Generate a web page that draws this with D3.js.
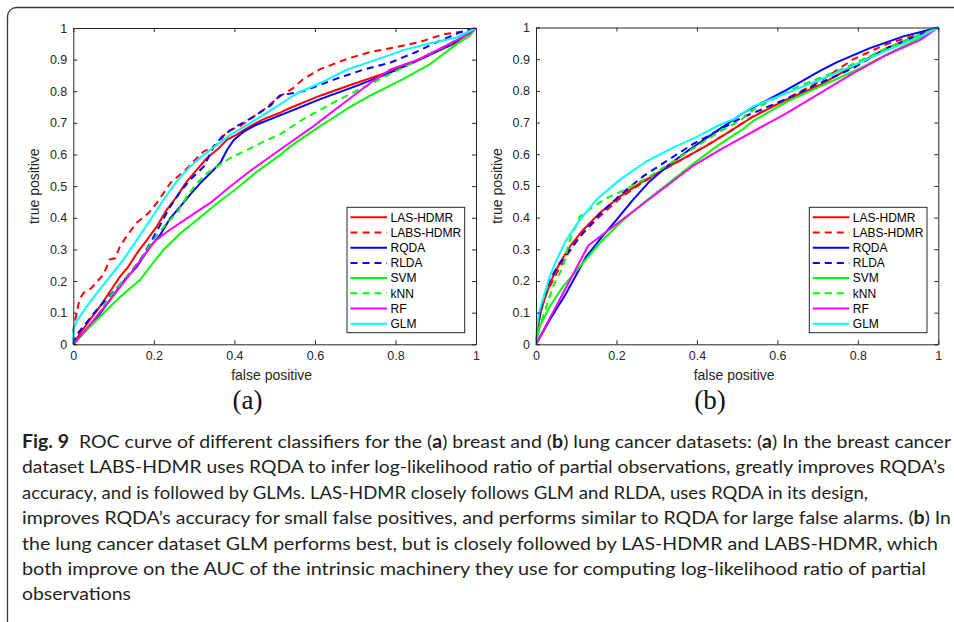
<!DOCTYPE html>
<html>
<head>
<meta charset="utf-8">
<script src="https://cdn.jsdelivr.net/npm/d3@7"></script>
<style>
  html, body { margin: 0; padding: 0; background: #fff; }
  svg { display: block; }
</style>
</head>
<body>
<svg id="fig" width="954" height="622"></svg>
<script>
// ---- data: ROC points [false positive, true positive] ----
// (a) breast cancer dataset
const breastLASHDMR = [[0,0],[0.017,0.035],[0.041,0.077],[0.066,0.119],[0.091,0.167],[0.116,0.214],[0.137,0.246],[0.158,0.288],[0.183,0.33],[0.207,0.372],[0.232,0.425],[0.257,0.467],[0.282,0.515],[0.307,0.552],[0.332,0.589],[0.357,0.615],[0.382,0.647],[0.407,0.664],[0.44,0.69],[0.473,0.712],[0.515,0.733],[0.538,0.747],[0.613,0.786],[0.695,0.823],[0.778,0.859],[0.861,0.902],[0.944,0.949],[1,1]];
const breastLABSHDMR = [[0,0],[0,0.045],[0.007,0.09],[0.015,0.14],[0.025,0.162],[0.045,0.178],[0.06,0.2],[0.075,0.22],[0.09,0.268],[0.104,0.272],[0.116,0.31],[0.133,0.343],[0.158,0.385],[0.187,0.415],[0.212,0.455],[0.241,0.51],[0.274,0.546],[0.307,0.589],[0.323,0.609],[0.356,0.63],[0.381,0.672],[0.414,0.69],[0.472,0.741],[0.513,0.784],[0.546,0.81],[0.571,0.839],[0.613,0.87],[0.679,0.902],[0.737,0.924],[0.803,0.94],[0.861,0.956],[0.919,0.98],[0.968,0.989],[1,1]];
const breastRQDA = [[0,0],[0.025,0.035],[0.058,0.082],[0.091,0.14],[0.124,0.198],[0.158,0.246],[0.191,0.309],[0.216,0.346],[0.241,0.399],[0.266,0.436],[0.29,0.473],[0.315,0.509],[0.34,0.541],[0.365,0.573],[0.382,0.615],[0.398,0.645],[0.423,0.672],[0.456,0.695],[0.49,0.712],[0.555,0.745],[0.613,0.775],[0.695,0.813],[0.778,0.854],[0.861,0.9],[0.944,0.952],[1,1]];
const breastRLDA = [[0,0],[0.008,0.03],[0.025,0.056],[0.058,0.109],[0.1,0.167],[0.133,0.214],[0.166,0.267],[0.191,0.32],[0.216,0.378],[0.241,0.436],[0.266,0.483],[0.29,0.52],[0.324,0.562],[0.349,0.626],[0.373,0.662],[0.407,0.69],[0.448,0.72],[0.49,0.755],[0.513,0.787],[0.571,0.8],[0.654,0.84],[0.72,0.868],[0.786,0.89],[0.853,0.925],[0.902,0.955],[0.96,0.986],[1,1]];
const breastSVM = [[0,0],[0.033,0.045],[0.075,0.098],[0.108,0.14],[0.141,0.177],[0.166,0.204],[0.191,0.246],[0.224,0.299],[0.266,0.351],[0.307,0.393],[0.357,0.446],[0.407,0.494],[0.456,0.546],[0.513,0.598],[0.538,0.625],[0.613,0.69],[0.679,0.744],[0.737,0.786],[0.82,0.839],[0.886,0.886],[0.952,0.949],[0.985,0.976],[1,1]];
const breastKNN = [[0,0],[0.025,0.035],[0.058,0.088],[0.091,0.151],[0.133,0.214],[0.166,0.267],[0.199,0.33],[0.232,0.383],[0.257,0.415],[0.282,0.467],[0.307,0.509],[0.332,0.541],[0.357,0.562],[0.39,0.589],[0.432,0.615],[0.473,0.641],[0.515,0.665],[0.571,0.712],[0.654,0.77],[0.729,0.817],[0.803,0.865],[0.869,0.907],[0.935,0.949],[1,1]];
const breastRF = [[0,0],[0.041,0.062],[0.091,0.14],[0.141,0.222],[0.203,0.327],[0.232,0.355],[0.282,0.398],[0.34,0.447],[0.389,0.498],[0.439,0.548],[0.513,0.615],[0.596,0.689],[0.679,0.77],[0.745,0.833],[0.786,0.868],[0.853,0.898],[0.919,0.94],[0.985,0.983],[1,1]];
const breastGLM = [[0,0],[0,0.045],[0.008,0.072],[0.033,0.119],[0.058,0.161],[0.091,0.214],[0.124,0.267],[0.158,0.33],[0.191,0.393],[0.224,0.457],[0.257,0.515],[0.29,0.562],[0.324,0.599],[0.357,0.631],[0.39,0.662],[0.432,0.694],[0.473,0.726],[0.515,0.76],[0.555,0.793],[0.613,0.826],[0.679,0.868],[0.753,0.9],[0.82,0.93],[0.886,0.952],[0.952,0.97],[1,1]];

// (b) lung cancer dataset
const lungLASHDMR = [[0,0],[0.005,0.056],[0.013,0.108],[0.026,0.161],[0.042,0.214],[0.059,0.256],[0.084,0.308],[0.117,0.361],[0.158,0.414],[0.208,0.466],[0.258,0.508],[0.316,0.551],[0.365,0.585],[0.423,0.626],[0.473,0.665],[0.54,0.719],[0.623,0.772],[0.706,0.819],[0.789,0.878],[0.872,0.935],[0.955,0.977],[1,1]];
const lungLABSHDMR = [[0,0],[0.003,0.056],[0.013,0.119],[0.03,0.172],[0.051,0.224],[0.075,0.277],[0.108,0.34],[0.158,0.403],[0.208,0.46],[0.258,0.505],[0.316,0.55],[0.365,0.585],[0.423,0.627],[0.473,0.665],[0.54,0.72],[0.623,0.775],[0.706,0.83],[0.789,0.9],[0.872,0.948],[0.955,0.98],[1,1]];
const lungRQDA = [[0,0],[0.034,0.077],[0.075,0.161],[0.125,0.277],[0.158,0.33],[0.2,0.393],[0.241,0.456],[0.283,0.515],[0.332,0.568],[0.382,0.615],[0.44,0.665],[0.515,0.73],[0.54,0.748],[0.623,0.803],[0.706,0.863],[0.747,0.89],[0.83,0.935],[0.913,0.972],[1,1]];
const lungRLDA = [[0,0],[0.005,0.066],[0.017,0.14],[0.034,0.203],[0.059,0.256],[0.084,0.298],[0.117,0.351],[0.158,0.41],[0.208,0.47],[0.266,0.53],[0.324,0.578],[0.39,0.632],[0.457,0.677],[0.515,0.718],[0.54,0.73],[0.623,0.775],[0.706,0.825],[0.789,0.872],[0.872,0.935],[1,1]];
const lungSVM = [[0,0],[0.009,0.056],[0.034,0.119],[0.067,0.182],[0.109,0.245],[0.158,0.319],[0.208,0.382],[0.266,0.445],[0.324,0.503],[0.382,0.561],[0.448,0.624],[0.515,0.68],[0.54,0.705],[0.623,0.765],[0.706,0.814],[0.789,0.861],[0.872,0.914],[0.955,0.967],[1,1]];
const lungKNN = [[0,0],[0.009,0.056],[0.026,0.119],[0.042,0.182],[0.067,0.245],[0.084,0.329],[0.109,0.403],[0.142,0.435],[0.183,0.466],[0.225,0.49],[0.283,0.53],[0.341,0.577],[0.398,0.624],[0.457,0.672],[0.506,0.705],[0.54,0.74],[0.648,0.812],[0.756,0.866],[0.863,0.93],[1,1]];
const lungRF = [[0,0],[0.13,0.312],[0.39,0.563],[0.457,0.614],[0.623,0.73],[0.706,0.793],[0.789,0.856],[0.872,0.914],[0.955,0.961],[1,1]];
const lungGLM = [[0,0],[0.002,0.056],[0.009,0.108],[0.022,0.161],[0.034,0.214],[0.051,0.266],[0.075,0.329],[0.109,0.393],[0.15,0.456],[0.208,0.519],[0.274,0.577],[0.341,0.621],[0.4,0.655],[0.457,0.693],[0.49,0.71],[0.54,0.751],[0.623,0.793],[0.706,0.835],[0.789,0.88],[0.872,0.928],[0.955,0.972],[1,1]];

const seriesNames = ["LAS-HDMR", "LABS-HDMR", "RQDA", "RLDA", "SVM", "kNN", "RF", "GLM"];
const breastSeries = [breastLASHDMR, breastLABSHDMR, breastRQDA, breastRLDA, breastSVM, breastKNN, breastRF, breastGLM];
const lungSeries = [lungLASHDMR, lungLABSHDMR, lungRQDA, lungRLDA, lungSVM, lungKNN, lungRF, lungGLM];

const xTicks = [0, 0.2, 0.4, 0.6, 0.8, 1];
const xTickLabels = ["0", "0.2", "0.4", "0.6", "0.8", "1"];
const yTicks = [0, 0.1, 0.2, 0.3, 0.4, 0.5, 0.6, 0.7, 0.8, 0.9, 1];
const yTickLabels = ["0", "0.1", "0.2", "0.3", "0.4", "0.5", "0.6", "0.7", "0.8", "0.9", "1"];

const panelTags = ["(a)", "(b)"];
const xAxisTitle = "false positive";
const yAxisTitle = "true positive";

// caption text, segments flagged bold / regular
const captionLines = [
  [["Fig. 9", 1], ["  ROC curve of different classifiers for the (", 0], ["a", 1], [") breast and (", 0], ["b", 1], [") lung cancer datasets: (", 0], ["a", 1], [") In the breast cancer", 0]],
  [["dataset LABS-HDMR uses RQDA to infer log-likelihood ratio of partial observations, greatly improves RQDA\u2019s", 0]],
  [["accuracy, and is followed by GLMs. LAS-HDMR closely follows GLM and RLDA, uses RQDA in its design,", 0]],
  [["improves RQDA\u2019s accuracy for small false positives, and performs similar to RQDA for large false alarms. (", 0], ["b", 1], [") In", 0]],
  [["the lung cancer dataset GLM performs best, but is closely followed by LAS-HDMR and LABS-HDMR, which", 0]],
  [["both improve on the AUC of the intrinsic machinery they use for computing log-likelihood ratio of partial", 0]],
  [["observations", 0]]
];

// ---- styles ----
const lineColors = ["#ff0000", "#ff0000", "#0000ff", "#0000ff", "#00ff00", "#00ff00", "#ff00ff", "#00ffff"];
const lineDashed = [false, true, false, true, false, true, false, false];

// ---- layout ----
const panels = [
  { left: 73.3, right: 476, top: 28, bottom: 344.3, series: breastSeries, tag: panelTags[0], tagX: 247.5 },
  { left: 536, right: 938.3, top: 27.5, bottom: 344.3, series: lungSeries, tag: panelTags[1], tagX: 710 }
];
const captionWidths = [929, 923, 846, 929, 916, 904, 109];
const axisInk = "#262626";
const tickFont = "Liberation Sans, Arial, Helvetica, sans-serif";

const svg = d3.select("#fig");

// outer frame with rounded corner, running off the right and bottom edges
svg.append("rect")
  .attr("x", 7.5).attr("y", 7.5)
  .attr("width", 980).attr("height", 660)
  .attr("rx", 9).attr("ry", 9)
  .attr("fill", "none").attr("stroke", "#3a3a3a").attr("stroke-width", 1.3);

panels.forEach(p => {
  const x = d3.scaleLinear().domain([0, 1]).range([p.left, p.right]);
  const y = d3.scaleLinear().domain([0, 1]).range([p.bottom, p.top]);
  const g = svg.append("g");

  // curves (drawn first so the box sits on top)
  const line = d3.line().x(d => x(d[0])).y(d => y(d[1]));
  p.series.forEach((pts, i) => {
    g.append("path")
      .attr("d", line(pts))
      .attr("fill", "none")
      .attr("stroke", lineColors[i])
      .attr("stroke-width", 2)
      .attr("stroke-linejoin", "round")
      .attr("stroke-dasharray", lineDashed[i] ? "7,5" : null);
  });

  const styleAxis = sel => {
    sel.selectAll("path.domain").attr("stroke", axisInk).attr("stroke-width", 1);
    sel.selectAll(".tick line").attr("stroke", axisInk).attr("stroke-width", 1);
    sel.selectAll(".tick text").attr("fill", axisInk)
      .attr("font-family", tickFont).attr("font-size", 12.5);
  };

  // bottom / left axes with labels, ticks pointing inward
  g.append("g").attr("transform", `translate(0,${p.bottom})`)
    .call(d3.axisBottom(x).tickValues(xTicks).tickFormat((d, i) => xTickLabels[i])
      .tickSize(-4).tickSizeOuter(0).tickPadding(7))
    .call(styleAxis);
  g.append("g").attr("transform", `translate(${p.left},0)`)
    .call(d3.axisLeft(y).tickValues(yTicks).tickFormat((d, i) => yTickLabels[i])
      .tickSize(-4).tickSizeOuter(0).tickPadding(6))
    .call(styleAxis);
  // top / right mirrored ticks
  g.append("g").attr("transform", `translate(0,${p.top})`)
    .call(d3.axisTop(x).tickValues(xTicks).tickFormat("").tickSize(-4).tickSizeOuter(0))
    .call(styleAxis);
  g.append("g").attr("transform", `translate(${p.right},0)`)
    .call(d3.axisRight(y).tickValues(yTicks).tickFormat("").tickSize(-4).tickSizeOuter(0))
    .call(styleAxis);

  // axis titles
  g.append("text")
    .attr("x", (p.left + p.right) / 2 - 3).attr("y", p.bottom + 36)
    .attr("text-anchor", "middle")
    .attr("font-family", tickFont).attr("font-size", 14).attr("fill", axisInk)
    .text(xAxisTitle);
  g.append("text")
    .attr("transform", `translate(${p.left - 34},${(p.top + p.bottom) / 2}) rotate(-90)`)
    .attr("text-anchor", "middle")
    .attr("font-family", tickFont).attr("font-size", 14).attr("fill", axisInk)
    .text(yAxisTitle);

  // legend
  const lgW = 117.7, lgH = 125.4;
  const lgX = p.right - 11.3 - lgW, lgY = p.bottom - 11.6 - lgH;
  const lg = g.append("g").attr("transform", `translate(${lgX},${lgY})`);
  lg.append("rect").attr("width", lgW).attr("height", lgH)
    .attr("fill", "#fff").attr("stroke", axisInk).attr("stroke-width", 1);
  seriesNames.forEach((name, i) => {
    const cy = 10 + i * 15.2;
    lg.append("line")
      .attr("x1", 3.5).attr("x2", 40).attr("y1", cy).attr("y2", cy)
      .attr("stroke", lineColors[i]).attr("stroke-width", 2)
      .attr("stroke-dasharray", lineDashed[i] ? "7,5" : null);
    lg.append("text")
      .attr("x", 43.5).attr("y", cy).attr("dy", "0.36em")
      .attr("font-family", tickFont).attr("font-size", 12).attr("fill", "#000")
      .text(name);
  });

  // panel tag
  svg.append("text")
    .attr("x", p.tagX).attr("y", 409)
    .attr("text-anchor", "middle")
    .attr("font-family", "Liberation Serif, DejaVu Serif, serif")
    .attr("font-size", 27).attr("fill", "#111")
    .text(p.tag);
});

// caption
captionLines.forEach((segs, i) => {
  const t = svg.append("text")
    .attr("x", 22).attr("y", 448 + i * 25.4)
    .attr("font-family", "Lato, Open Sans, sans-serif")
    .attr("font-size", 18).attr("fill", "#231f20")
    .attr("textLength", captionWidths[i])
    .attr("lengthAdjust", "spacingAndGlyphs")
    .attr("xml:space", "preserve")
    .style("white-space", "pre");
  segs.forEach(([s, b]) => {
    t.append("tspan").attr("font-weight", b ? "bold" : "normal").text(s);
  });
});
</script>
</body>
</html>
